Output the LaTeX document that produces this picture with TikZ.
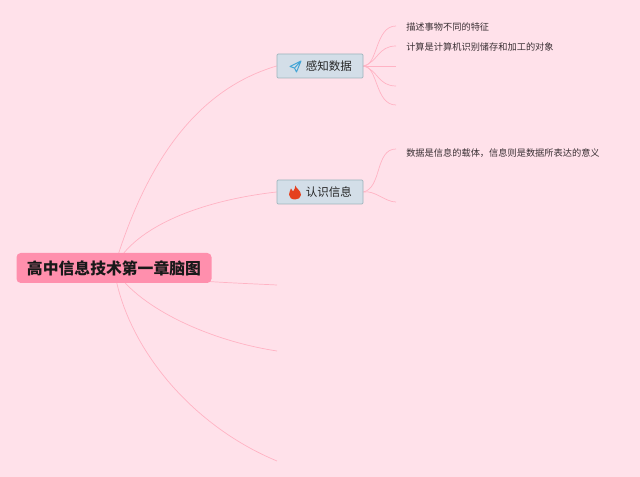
\documentclass[tikz,border=0pt]{standalone}
\usepackage{fontspec}
\usepackage{tikz}
\usetikzlibrary{backgrounds}
\newfontfamily\cjk{Noto Sans CJK SC}
\definecolor{bgpink}{HTML}{FFE1EA}
\definecolor{linkpink}{HTML}{FFB3C4}
\definecolor{rootpink}{HTML}{FF8FAD}
\definecolor{topicfill}{HTML}{D3DEE8}
\definecolor{topicline}{HTML}{9DB4BC}
\definecolor{leaftext}{HTML}{3A3034}
\definecolor{planeblue}{HTML}{45A5D6}
\definecolor{flamered}{HTML}{E5401E}
\tikzset{
  rootbox/.style={fill=rootpink, rounded corners=3pt, minimum width=195*0.025cm, minimum height=30*0.025cm, inner sep=0pt, font=\cjk\bfseries\fontsize{11.25}{14}\selectfont, text=black!90},
  topicbox/.style={draw=topicline, fill=topicfill, rounded corners=0.8pt, line width=0.5pt, minimum width=86*0.025cm, minimum height=24*0.025cm, inner sep=0pt, font=\cjk\fontsize{8.2}{10}\selectfont, text=black!85},
  leaftxt/.style={anchor=west, inner sep=0pt, font=\cjk\fontsize{6.55}{8}\selectfont, text=leaftext},
  link/.style={draw=linkpink, line width=0.5pt}
}
\begin{document}
\begin{tikzpicture}[x=0.025cm, y=-0.025cm]
\useasboundingbox (0, 0) rectangle (640, 477);
% Root and the two topic boxes
\node[rootbox] (root) at (114, 268) {高中信息技术第一章脑图};
\node[topicbox, text width=86*0.025cm, align=left] (perceive) at (320, 66) {\hspace{20.5pt}感知数据};
\node[topicbox, text width=86*0.025cm, align=left] (recognize) at (320, 192) {\hspace{20.5pt}认识信息};
% Leaf texts
\node[leaftxt] (leafa) at (406, 27.5) {描述事物不同的特征};
\node[leaftxt] (leafb) at (406, 47.5) {计算是计算机识别储存和加工的对象};
\node[leaftxt] (leafc) at (406, 153) {数据是信息的载体，信息则是数据所表达的意义};
% Free ends of the branches
\coordinate (enda) at (396, 26);
\coordinate (endb) at (396, 46);
\coordinate (endc) at (396, 66);
\coordinate (endd) at (396, 86);
\coordinate (ende) at (396, 105);
\coordinate (endf) at (396, 149);
\coordinate (endg) at (396, 202);
\coordinate (endh) at (277, 285);
\coordinate (endi) at (277, 351);
\coordinate (endj) at (277, 461);
% Paper plane icon
\draw[planeblue, line width=0.7pt, line join=round] (301, 61) -- (290, 66.5) -- (294.5, 68) -- (296.5, 72) -- (301, 61) -- (294.5, 68);
% Flame icon
\fill[flamered] (295.5, 185.5) .. controls (296, 189) and (301, 190) .. (301, 195) .. controls (301, 198) and (298, 199.5) .. (295, 199.5) .. controls (291.5, 199.5) and (289, 197.5) .. (289, 194.5) .. controls (289, 192) and (290.5, 190.5) .. (291, 188.5) .. controls (292, 189.5) and (292.5, 190.5) .. (293, 191.5) .. controls (294, 190) and (295.5, 188) .. (295.5, 185.5) -- cycle;
% Background and branches go behind the boxes
\begin{scope}[on background layer]
\fill[bgpink] (0, 0) rectangle (640, 477);
\draw[link] (root.center) .. controls (145, 165) and (195, 90) .. (perceive.west);
\draw[link] (root.center) .. controls (135, 225) and (205, 200) .. (recognize.west);
\draw[link] (root.center) .. controls (150, 280) and (215, 282) .. (endh);
\draw[link] (root.center) .. controls (135, 305) and (205, 340) .. (endi);
\draw[link] (root.center) .. controls (125, 345) and (190, 425) .. (endj);
\draw[link] (perceive.east) .. controls (378, 66) and (375, 26) .. (enda);
\draw[link] (perceive.east) .. controls (378, 62) and (378, 46) .. (endb);
\draw[link] (perceive.east) -- (endc);
\draw[link] (perceive.east) .. controls (378, 70) and (378, 86) .. (endd);
\draw[link] (perceive.east) .. controls (378, 66) and (375, 105) .. (ende);
\draw[link] (recognize.east) .. controls (382, 188) and (375, 149) .. (endf);
\draw[link] (recognize.east) .. controls (375, 190) and (385, 202) .. (endg);
\end{scope}
\end{tikzpicture}
\end{document}
